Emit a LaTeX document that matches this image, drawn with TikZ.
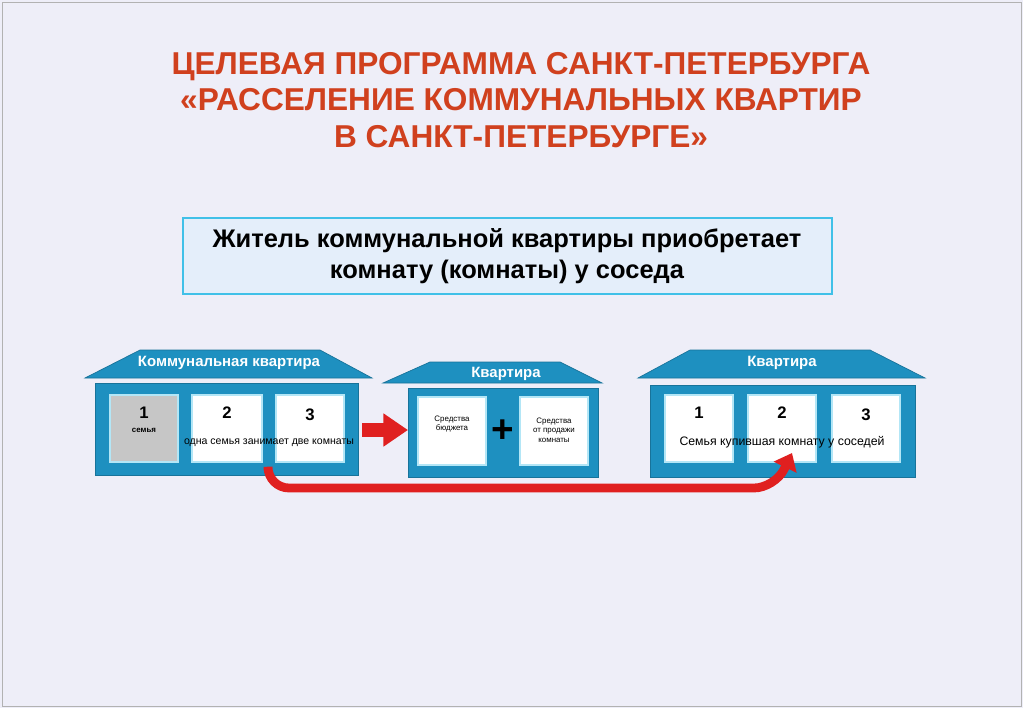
\documentclass[tikz,border=0pt]{standalone}
\usepackage{fontspec}
\setmainfont{Liberation Sans}
\usetikzlibrary{arrows.meta}
\definecolor{bgc}{HTML}{EEEEF8}
\definecolor{titlec}{HTML}{D0401E}
\definecolor{housec}{HTML}{1E90C0}
\definecolor{boxc}{HTML}{E4EEFA}
\definecolor{framec}{HTML}{40C0E8}
\definecolor{redc}{HTML}{E02020}
\tikzset{
  room/.style={draw=framec!40,fill=white,line width=0.6pt},
  roomtxt/.style={font=\bfseries\fontsize{7}{8}\selectfont,align=center},
  roomnum/.style={font=\bfseries\fontsize{9.5}{10}\selectfont},
  roof/.style={fill=housec,draw=housec!80!black,line width=0.4pt},
  body/.style={fill=housec,draw=housec!80!black,line width=0.4pt},
  rooftxt/.style={font=\bfseries\fontsize{8.5}{9}\selectfont,text=white},
}
\begin{document}
\begin{tikzpicture}[x=0.02cm,y=-0.02cm]
\useasboundingbox (0,0) rectangle (1023,708);
\fill[bgc] (0,0) rectangle (1023,708);
\draw[gray!60] (2,2) rectangle (1021,706);

% title
\node[font=\bfseries\fontsize{18}{21}\selectfont,text=titlec,align=center] (title) at (521,100)
  {ЦЕЛЕВАЯ ПРОГРАММА САНКТ-ПЕТЕРБУРГА\\«РАССЕЛЕНИЕ КОММУНАЛЬНЫХ КВАРТИР\\В САНКТ-ПЕТЕРБУРГЕ»};

\draw[fill=boxc,draw=framec,line width=1.2pt] (183,218) rectangle (832,294);
\node[font=\bfseries\fontsize{14.5}{17.5}\selectfont,align=center] (idea) at (507,256)
  {Житель коммунальной квартиры приобретает\\комнату (комнаты) у соседа};

% house 1
\draw[roof] (85,378) -- (140,350) -- (320,350) -- (372,378) -- cycle;
\draw[body] (95,383) rectangle (358,475);
\node[rooftxt] (h1) at (229,363) {Коммунальная квартира};
\draw[room,fill=gray!45] (110,395) rectangle (178,462);
\draw[room] (192,395) rectangle (262,462);
\draw[room] (276,395) rectangle (344,462);
\node[roomnum] (a1) at (144,413) {1};
\node[roomtxt,font=\bfseries\fontsize{4.5}{5}\selectfont] (a1t) at (144,430) {семья};
\node[roomnum] (a2) at (227,413) {2};
\node[roomnum] (a3) at (310,415) {3};
\node[roomtxt,font=\fontsize{6}{7}\selectfont] (a23) at (269,443) {одна семья занимает две комнаты};

% house 2
\draw[roof] (383,383) -- (430,362) -- (560,362) -- (602,383) -- cycle;
\draw[body] (408,388) rectangle (598,477);
\node[rooftxt] (h2) at (506,374) {Квартира};
\draw[room] (418,397) rectangle (486,465);
\draw[room] (520,397) rectangle (588,465);
\node[roomtxt,font=\fontsize{4.5}{5.5}\selectfont] (b1) at (452,424) {Средства\\бюджета};
\node[roomtxt,font=\fontsize{4.5}{5.5}\selectfont] (b2) at (554,430) {Средства\\от продажи\\комнаты};
\node[font=\bfseries\fontsize{22}{22}\selectfont] (plus) at (503,431) {+};

% house 3
\draw[roof] (638,378) -- (690,350) -- (870,350) -- (925,378) -- cycle;
\draw[body] (650,385) rectangle (915,477);
\node[rooftxt] (h3) at (782,363) {Квартира};
\draw[room] (665,395) rectangle (733,462);
\draw[room] (748,395) rectangle (816,462);
\draw[room] (832,395) rectangle (900,462);
\node[roomnum] (c1) at (699,413) {1};
\node[roomnum] (c2) at (782,413) {2};
\node[roomnum] (c3) at (866,415) {3};
\node[roomtxt,font=\fontsize{7}{8}\selectfont] (c23) at (782,442) {Семья купившая комнату у соседей};

% arrows
\coordinate (s1) at (362,430);
\coordinate (e1) at (408,430);
\draw[redc,line width=8pt,-{Triangle[length=14pt,width=18pt]}] (s1) -- (e1);
\coordinate (s2) at (268,470);
\coordinate (e2) at (792,453);
\draw[redc,line width=5pt,-{Triangle[length=9pt,width=14pt]},rounded corners=12pt]
  (s2) -- (268,488) -- (775,488) -- (e2);
\end{tikzpicture}
\end{document}
